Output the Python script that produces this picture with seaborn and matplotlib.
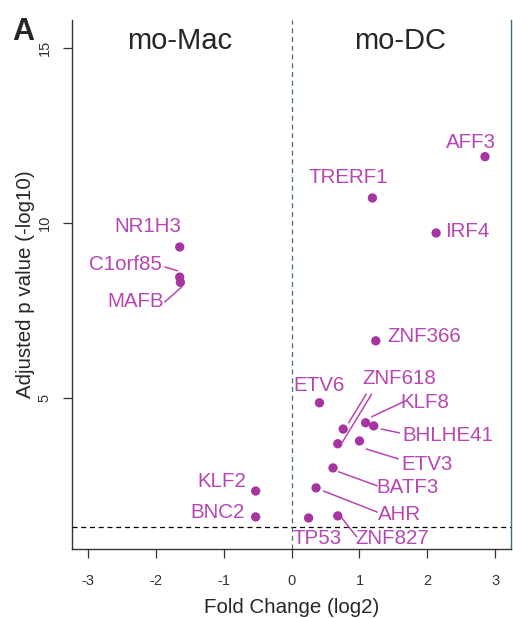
import matplotlib
matplotlib.use("Agg")
import matplotlib.pyplot as plt
import seaborn as sns
import pandas as pd

sns.set_style("white")
plt.rcParams["font.family"] = ["Liberation Sans", "DejaVu Sans"]

# Dane: geny, log2 fold change, -log10 skorygowane p
genes = ["AFF3", "TRERF1", "IRF4", "NR1H3", "C1orf85", "MAFB", "ZNF366",
         "ETV6", "ZNF618", "KLF8", "BHLHE41", "ETV3", "ZNF618b", "BATF3",
         "AHR", "TP53", "ZNF827", "KLF2", "BNC2"]
fold_change = [2.85, 1.19, 2.13, -1.65, -1.65, -1.64, 1.24,
               0.41, 0.76, 1.09, 1.21, 1.00, 0.68, 0.61,
               0.36, 0.25, 0.68, -0.53, -0.53]
neg_log_p = [11.89, 10.71, 9.71, 9.31, 8.45, 8.30, 6.63,
             4.86, 4.11, 4.29, 4.20, 3.77, 3.69, 3.00,
             2.43, 1.57, 1.63, 2.34, 1.60]

# Etykiety: (tekst, x, y, wyrównanie)
label_text = ["AFF3", "TRERF1", "IRF4", "NR1H3", "C1orf85", "MAFB", "ZNF366",
              "ETV6", "ZNF618", "KLF8", "BHLHE41", "ETV3", "BATF3", "AHR",
              "TP53", "ZNF827", "KLF2", "BNC2"]
label_x = [2.65, 0.83, 2.26, -2.12, -2.45, -2.30, 1.41,
           0.41, 1.59, 1.96, 2.30, 1.99, 1.71, 1.59,
           0.38, 1.49, -1.03, -1.09]
label_y = [12.30, 11.29, 9.75, 9.89, 8.80, 7.75, 6.75,
           5.34, 5.54, 4.86, 3.94, 3.09, 2.43, 1.66,
           0.97, 0.97, 2.60, 1.74]
label_ha = ["center", "center", "left", "center", "center", "center", "left",
            "center", "center", "center", "center", "center", "center", "center",
            "center", "center", "center", "center"]

# Linie łączące etykiety z punktami
seg_x0 = [1.10, 1.18, 1.65, 1.32, 1.10, 0.69, 0.47, 0.74, -1.87, -1.87]
seg_y0 = [5.11, 5.11, 4.89, 4.11, 3.54, 2.89, 2.34, 1.57, 8.74, 7.74]
seg_x1 = [0.84, 0.75, 1.18, 1.59, 1.57, 1.26, 1.26, 0.96, -1.68, -1.62]
seg_y1 = [4.29, 3.74, 4.46, 4.00, 3.26, 2.49, 1.74, 1.03, 8.63, 8.17]

point_color = "#A8349F"
text_color = "#B845B4"
teal = "#3D6F7C"

df = pd.DataFrame({"gene": genes, "fc": fold_change, "p": neg_log_p})

fig = plt.figure(figsize=(5.13, 6.18), dpi=100)
ax = fig.add_axes([0.140, 0.112, 0.857, 0.856])

sns.scatterplot(data=df, x="fc", y="p", ax=ax, color=point_color,
                s=45, edgecolor="none", zorder=3)

ax.axhline(1.30, color="black", ls=(0, (4, 3)), lw=0.9, zorder=1)
ax.axvline(0, color=teal, ls=(0, (4, 3)), lw=0.9, zorder=1)

for x0, y0, x1, y1 in zip(seg_x0, seg_y0, seg_x1, seg_y1):
    ax.plot([x0, x1], [y0, y1], color=text_color, lw=1.1, zorder=2)

for t, x, y, ha in zip(label_text, label_x, label_y, label_ha):
    ax.text(x, y, t, color=text_color, fontsize=14.8, ha=ha, va="center", zorder=4)

ax.text(-1.65, 15.2, "mo-Mac", fontsize=21, ha="center", va="center")
ax.text(1.6, 15.2, "mo-DC", fontsize=21, ha="center", va="center")
fig.text(0.045, 0.948, "A", fontsize=22, fontweight="bold", ha="center", va="center")

ax.set_xlim(-3.24, 3.24)
ax.set_ylim(0.69, 15.8)
ax.set_xticks([-3, -2, -1, 0, 1, 2, 3])
ax.set_yticks([5, 10, 15])
ax.set_xticklabels(["-3", "-2", "-1", "0", "1", "2", "3"])
ax.set_yticklabels(["5", "10", "15"], rotation=90, va="center")
ax.tick_params(axis="both", direction="out", length=6.5, width=0.9,
               labelsize=10.5, colors="#333333", bottom=True, left=True)
ax.tick_params(axis="x", pad=12)
ax.tick_params(axis="y", pad=8)

ax.spines["top"].set_visible(False)
ax.spines["left"].set_color("#333333")
ax.spines["bottom"].set_color("#333333")
ax.spines["right"].set_color(teal)
for s in ["left", "bottom", "right"]:
    ax.spines[s].set_linewidth(1.0)

ax.set_xlabel("Fold Change (log2)", fontsize=14.8, labelpad=7)
ax.set_ylabel("Adjusted p value (-log10)", fontsize=14.8, labelpad=2)

plt.savefig("out.png", dpi=100)
